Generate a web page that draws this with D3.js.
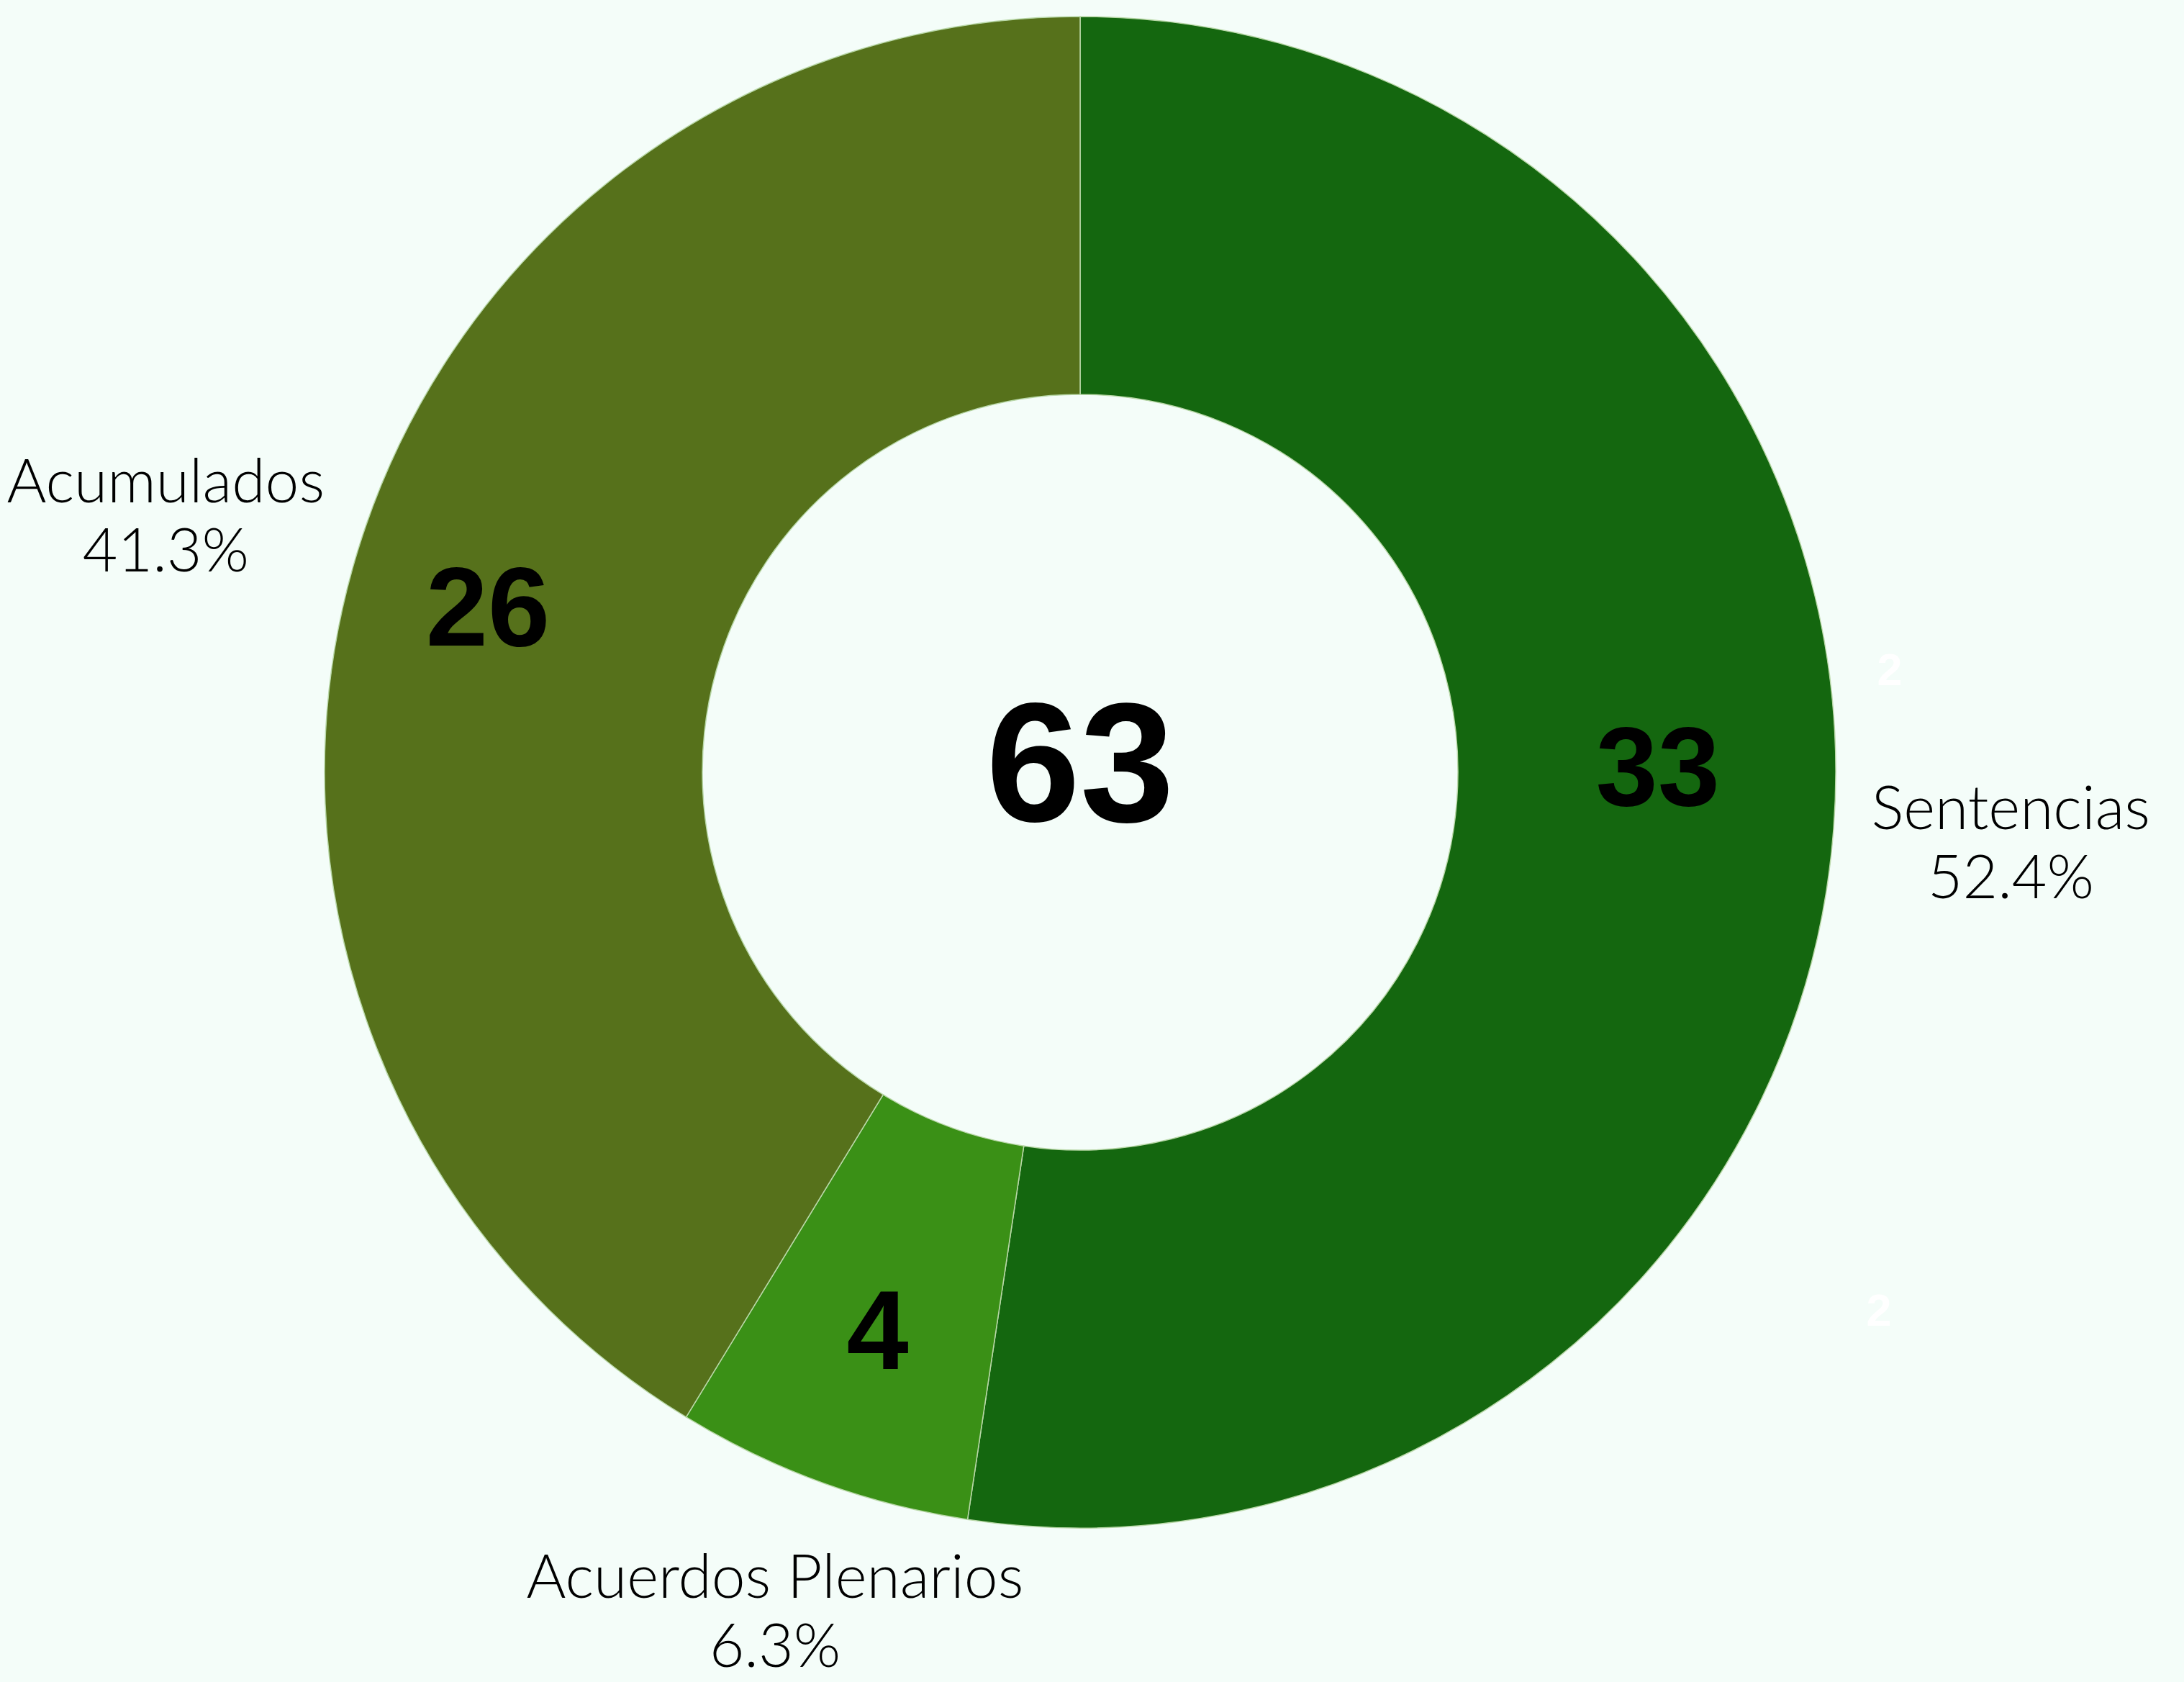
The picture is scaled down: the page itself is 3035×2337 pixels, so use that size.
<!DOCTYPE html>
<html lang="es">
<head>
<meta charset="utf-8">
<title>Resoluciones</title>
<script src="https://d3js.org/d3.v7.min.js"></script>
<style>
  html, body { margin: 0; padding: 0; background: #f4fdf9; }
  svg { display: block; }
</style>
</head>
<body>
<div id="chart"></div>
<script>
// data
var categories = ["Sentencias", "Acuerdos Plenarios", "Acumulados"];
var values = [33, 4, 26];
var percentLabels = ["52.4%", "6.3%", "41.3%"];
var colors = ["#14670f", "#3a9016", "#56711b"];
var totalLabel = "63";

var w = 3035, h = 2337;
var cx = 1501, cy = 1073;
var outerR = 1050, innerR = 525;
// label placement (layout only)
var numRadius = [805, 823, 855];
var numShiftY = [-70, 0, 0];
var labRadius = [1297, 1240, 1320];

var svg = d3.select("#chart").append("svg")
  .attr("width", w).attr("height", h)
  .style("background-color", "#f4fdf9");

var g = svg.append("g").attr("transform", "translate(" + cx + "," + cy + ")");

var pie = d3.pie().sort(null).value(function(d) { return d; });
var arcs = pie(values);

var arc = d3.arc().innerRadius(innerR).outerRadius(outerR);

function polar(d, r) {
  var a = (d.startAngle + d.endAngle) / 2;
  return [Math.sin(a) * r, -Math.cos(a) * r];
}

// slices
g.selectAll("path.slice")
  .data(arcs)
  .enter()
  .append("path")
  .attr("class", "slice")
  .attr("d", arc)
  .attr("fill", function(d, i) { return colors[i]; })
  .attr("stroke", "#b9d8a8")
  .attr("stroke-width", 1.5);

// value inside each slice
var numSize = 155;
g.selectAll("text.num")
  .data(arcs)
  .enter()
  .append("text")
  .attr("class", "num")
  .attr("x", function(d, i) { return polar(d, numRadius[i])[0]; })
  .attr("y", function(d, i) { return polar(d, numRadius[i])[1] + numShiftY[i] + numSize * 0.358; })
  .attr("text-anchor", "middle")
  .style("font-family", "'Liberation Sans', Arial, sans-serif")
  .style("font-weight", "bold")
  .style("font-size", numSize + "px")
  .style("fill", "#000")
  .text(function(d) { return d.data; });

// outer labels: name + percent
var outer = g.selectAll("text.lab")
  .data(arcs)
  .enter()
  .append("text")
  .attr("class", "lab")
  .attr("text-anchor", "middle")
  .style("font-family", "Lato, 'Open Sans', sans-serif")
  .style("font-weight", 300)
  .style("font-size", "84px")
  .style("fill", "#000");

outer.append("tspan")
  .attr("x", function(d, i) { return polar(d, labRadius[i])[0]; })
  .attr("y", function(d, i) { return polar(d, labRadius[i])[1] - 18; })
  .text(function(d, i) { return categories[i]; });

outer.append("tspan")
  .attr("x", function(d, i) { return polar(d, labRadius[i])[0]; })
  .attr("y", function(d, i) { return polar(d, labRadius[i])[1] + 78; })
  .text(function(d, i) { return percentLabels[i]; });

// total in the middle
var totSize = 235;
g.append("text")
  .attr("x", 0)
  .attr("y", totSize * 0.29)
  .attr("text-anchor", "middle")
  .style("font-family", "'Liberation Sans', Arial, sans-serif")
  .style("font-weight", "bold")
  .style("font-size", totSize + "px")
  .style("fill", "#000")
  .text(totalLabel);

// faint white leftovers on the right side
[[1125, -143], [1110, 747]].forEach(function(p) {
  g.append("text")
    .attr("x", p[0]).attr("y", p[1] + 22)
    .attr("text-anchor", "middle")
    .style("font-family", "'Liberation Sans', Arial, sans-serif")
    .style("font-weight", "bold")
    .style("font-size", "63px")
    .style("fill", "#ffffff")
    .text("2");
});
</script>
</body>
</html>
